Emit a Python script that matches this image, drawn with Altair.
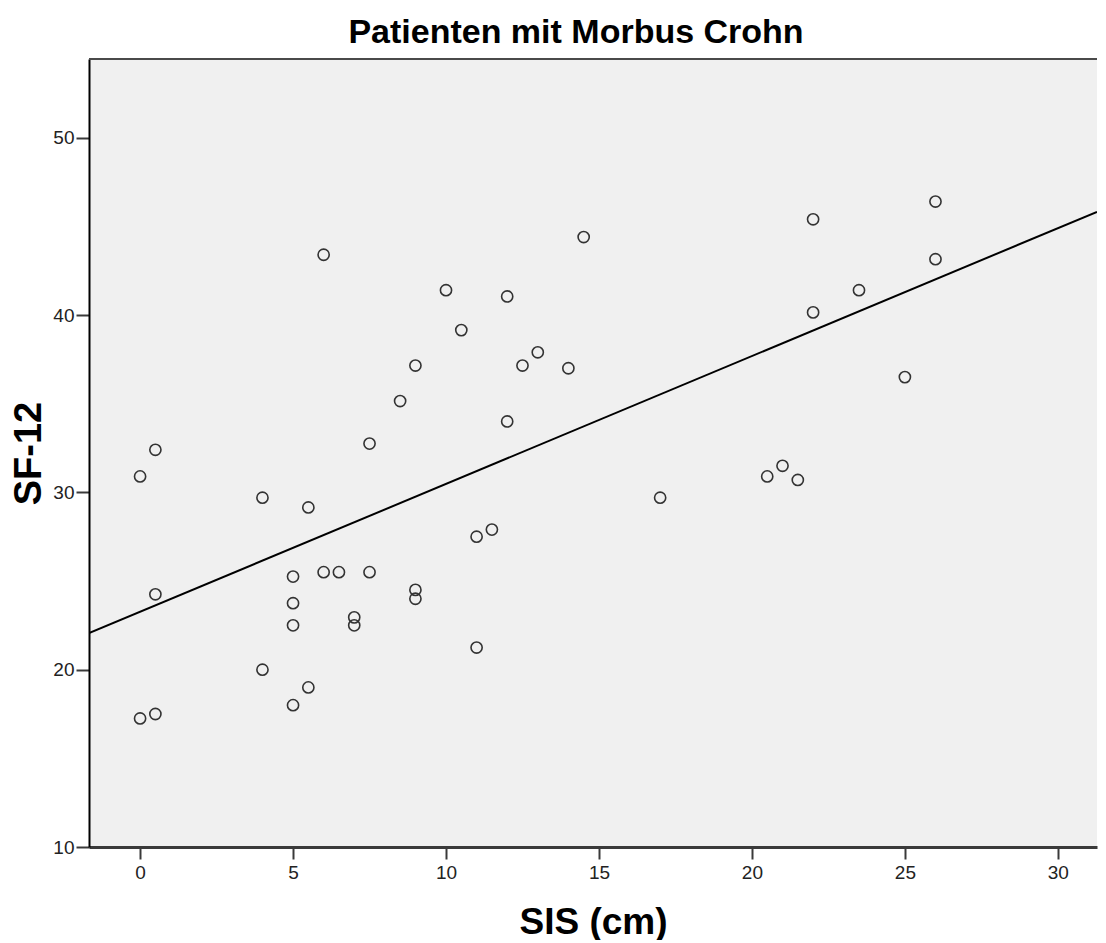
import altair as alt
import pandas as pd

# SIS (cm) values
sis = [0, 0.5, 0.5, 0, 0.5, 4, 4, 5, 5, 5, 5, 5.5, 5.5, 6, 6, 6.5, 7, 7, 7.5, 7.5,
       8.5, 9, 9, 9, 10, 10.5, 11, 11, 11.5, 12, 12, 12.5, 13, 14, 14.5, 17,
       20.5, 21, 21.5, 22, 22, 23.5, 25, 26, 26]
# SF-12 values
sf12 = [30.9, 32.4, 24.25, 17.25, 17.5, 29.7, 20.0, 25.25, 23.75, 22.5, 18.0, 29.15,
        19.0, 43.4, 25.5, 25.5, 22.95, 22.5, 32.75, 25.5, 35.15, 37.15, 24.5, 24.0,
        41.4, 39.15, 27.5, 21.25, 27.9, 41.05, 34.0, 37.15, 37.9, 37.0, 44.4, 29.7,
        30.9, 31.5, 30.7, 45.4, 40.15, 41.4, 36.5, 46.4, 43.15]

x_ticks = [0, 5, 10, 15, 20, 25, 30]
y_ticks = [10, 20, 30, 40, 50]
x_domain = [-1.67, 31.28]
y_domain = [10, 54.44]

title_text = "Patienten mit Morbus Crohn"
x_title = "SIS (cm)"
y_title = "SF-12"

W, H = 1008, 788
FONT = "Liberation Sans"

df = pd.DataFrame({"SIS": sis, "SF12": sf12})

x_enc = alt.X(
    "SIS:Q",
    scale=alt.Scale(domain=x_domain, nice=False, zero=False),
    axis=alt.Axis(
        values=x_ticks, title=x_title, grid=False,
        domainColor="#3a3a3a", domainWidth=3,
        tickColor="#3a3a3a", tickWidth=2, tickSize=12,
        labelFont=FONT, labelFontSize=19, labelColor="#222", labelPadding=4,
        titleFont=FONT, titleFontSize=37, titleFontWeight="bold", titleColor="black",
        titlePadding=22,
    ),
)
y_enc = alt.Y(
    "SF12:Q",
    scale=alt.Scale(domain=y_domain, nice=False, zero=False),
    axis=alt.Axis(
        values=y_ticks, title=y_title, grid=False,
        domainColor="black", domainWidth=2,
        tickColor="#3a3a3a", tickWidth=2, tickSize=13,
        labelFont=FONT, labelFontSize=19, labelColor="#222", labelPadding=2,
        titleFont=FONT, titleFontSize=38, titleFontWeight="bold", titleColor="black",
        titlePadding=4,
    ),
)

base = alt.Chart(df)

points = base.mark_point(
    shape="circle", filled=False, size=125, stroke="#333", strokeWidth=1.6, opacity=1
).encode(x=x_enc, y=y_enc)

fit = base.transform_regression(
    "SIS", "SF12", extent=x_domain
).mark_line(color="black", strokeWidth=2, clip=True).encode(x=x_enc, y=y_enc)

top_border = alt.Chart(pd.DataFrame({"k": [0]})).mark_rule(
    color="#4a4a4a", strokeWidth=2
).encode(x=alt.value(0), x2=alt.value(W), y=alt.value(0))

chart = alt.layer(fit, points, top_border).properties(
    width=W, height=H,
    title=alt.TitleParams(
        text=title_text, font=FONT, fontSize=34, fontWeight="bold", color="black",
        anchor="middle", dx=-17, offset=8,
    ),
    padding={"left": 2, "top": 8, "right": 0, "bottom": 0},
).configure(
    background="white",
    view=alt.ViewConfig(fill="#f0f0f0", stroke=None),
)

chart.save("out.html", embed_options={"renderer": "svg", "actions": False})
